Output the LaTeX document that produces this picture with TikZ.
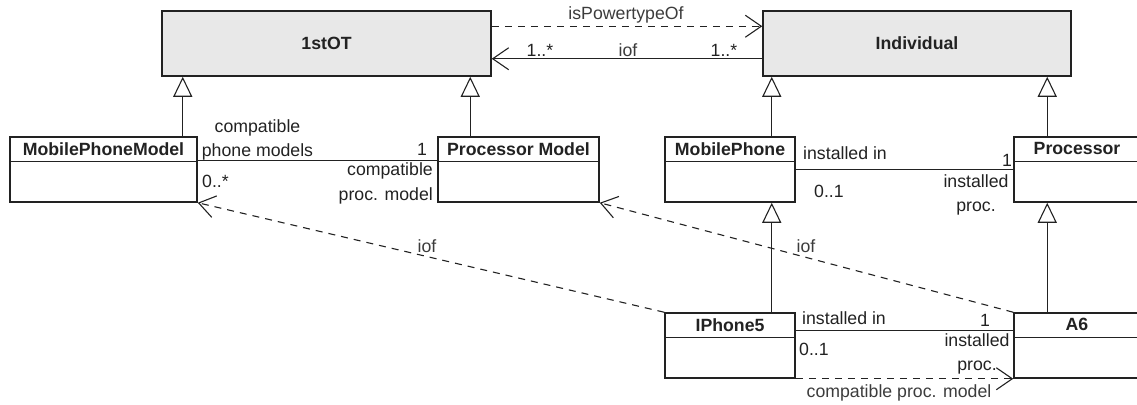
\documentclass[tikz,border=0pt]{standalone}
\usepackage{fontspec}
\setmainfont{Liberation Sans}
\usepackage{xcolor}
\usepackage{tikz}
\usetikzlibrary{calc,arrows.meta}
\definecolor{ink}{HTML}{222222}
\definecolor{metafill}{HTML}{E8E8E8}
\definecolor{deptext}{HTML}{3C3C3C}
\newcommand{\umlfont}{\fontsize{17.7}{24.5}\selectfont}
\tikzset{
  klass/.style={draw=ink, line width=1.5pt, fill=white, inner sep=0pt, minimum height=65pt},
  meta/.style={klass, fill=metafill, font=\umlfont\bfseries, text=ink},
  cname/.style={font=\umlfont\bfseries, text=ink, inner sep=0pt},
  sep/.style={draw=ink, line width=1.5pt},
  gen/.style={draw=ink, line width=1.1pt, -{Triangle[open, length=20pt, width=19pt]}},
  assoc/.style={draw=ink, line width=1.1pt},
  dep/.style={draw=ink, line width=1.1pt, dash pattern=on 7pt off 6pt,
    -{Straight Barb[length=16pt, width=22pt]}},
  inst/.style={draw=ink, line width=1.1pt, -{Straight Barb[length=16pt, width=22pt]}},
  role/.style={font=\umlfont, text=ink, inner sep=0pt},
  deplabel/.style={font=\umlfont, text=deptext, inner sep=0pt}
}
\begin{document}
\begin{tikzpicture}[x=1pt, y=-1pt]
  \useasboundingbox (0,0) rectangle (1137,404);

  % power type level
  \node[meta, minimum width=329pt] (ot)  at (326.5,43.5) {1stOT};
  \node[meta, minimum width=308pt] (ind) at (917,43.5) {Individual};

  % classes
  \node[klass, minimum width=187pt] (mpm)  at (103.5,169.5) {};
  \node[klass, minimum width=161pt] (pm)   at (518.5,169.5) {};
  \node[klass, minimum width=130pt] (mp)   at (730,169.5) {};
  \node[klass, minimum width=126pt] (proc) at (1077,169.5) {};
  \node[klass, minimum width=130pt] (ip5)  at (730,345.5) {};
  \node[klass, minimum width=126pt] (a6)   at (1077,345.5) {};

  \foreach \c in {mpm,pm,mp,proc,ip5,a6}
    \draw[sep] ($(\c.north west)+(0,25)$) -- ($(\c.north east)+(0,25)$);

  \node[cname] (mpmname)  at ($(mpm.north)+(0,12.5)$)  {MobilePhoneModel};
  \node[cname] (pmname)   at ($(pm.north)+(0,12.5)$)   {Processor Model};
  \node[cname] (mpname)   at ($(mp.north)+(0,12.5)$)   {MobilePhone};
  \node[cname] (procname) at ($(proc.north)+(0,12.5)$) {Processor};
  \node[cname] (ip5name)  at ($(ip5.north)+(0,12.5)$)  {IPhone5};
  \node[cname] (a6name)   at ($(a6.north)+(0,12.5)$)   {A6};

  % generalizations
  \coordinate (g1) at ($(mpm.north east)+(-15,0)$);
  \coordinate (g2) at ($(pm.north west)+(33,0)$);
  \coordinate (g3) at ($(mp.north east)+(-24,0)$);
  \coordinate (g4) at ($(proc.north west)+(34,0)$);
  \coordinate (g5) at ($(ip5.north east)+(-24,0)$);
  \coordinate (g6) at ($(a6.north west)+(34,0)$);
  \draw[gen] (g1) -- (g1 |- ot.south);
  \draw[gen] (g2) -- (g2 |- ot.south);
  \draw[gen] (g3) -- (g3 |- ind.south);
  \draw[gen] (g4) -- (g4 |- ind.south);
  \draw[gen] (g5) -- (g5 |- mp.south);
  \draw[gen] (g6) -- (g6 |- proc.south);

  % dependencies
  \draw[dep]  ($(ot.north east)+(0,16)$) -- ($(ind.north west)+(0,16)$);
  \draw[inst] ($(ind.south west)+(0,-18)$) -- ($(ot.south east)+(0,-18)$);
  \draw[dep]  (ip5.north west) -- (mpm.south east);
  \draw[dep]  (a6.north west) -- (pm.south east);
  \draw[dep]  (ip5.south east) -- (a6.south west);

  % associations
  \draw[assoc] ($(mpm.north east)+(0,24)$) -- ($(pm.north west)+(0,24)$);
  \draw[assoc] ($(mp.north east)+(0,33)$) -- ($(proc.north west)+(0,33)$);
  \draw[assoc] ($(ip5.north east)+(0,18)$) -- ($(a6.north west)+(0,18)$);

  % labels
  \node[deplabel] (lpow) at (626,15) {isPowertypeOf};
  \node[deplabel] (liof) at (628,50) {iof};
  \node[role] (mult1) at (540,50) {1..*};
  \node[role] (mult2) at (724,50) {1..*};

  \node[role, align=center] (role1) at (257.5,140) {compatible\\phone models};
  \node[role, anchor=west] (mult3) at (202,181) {0..*};
  \node[role] (mult4) at (422,149) {1};
  \node[role, align=right, anchor=east] (role2) at (433,183.5) {compatible\\proc. model};

  \node[role, anchor=west] (role3) at (803,153) {installed in};
  \node[role, anchor=west] (mult5) at (814,191) {0..1};
  \node[role] (mult6) at (1007,160) {1};
  \node[role, align=center] (role4) at (976,195) {installed\\proc.};

  \node[role, anchor=west] (role5) at (802,318) {installed in};
  \node[role] (mult7) at (985,320) {1};
  \node[role, anchor=west] (mult8) at (799,349) {0..1};
  \node[role, align=center] (role6) at (977,354) {installed\\proc.};

  \node[deplabel] (liof2) at (427,246) {iof};
  \node[deplabel] (liof3) at (806,246) {iof};
  \node[deplabel] (lcpm) at (899,393) {compatible proc. model};
\end{tikzpicture}
\end{document}
